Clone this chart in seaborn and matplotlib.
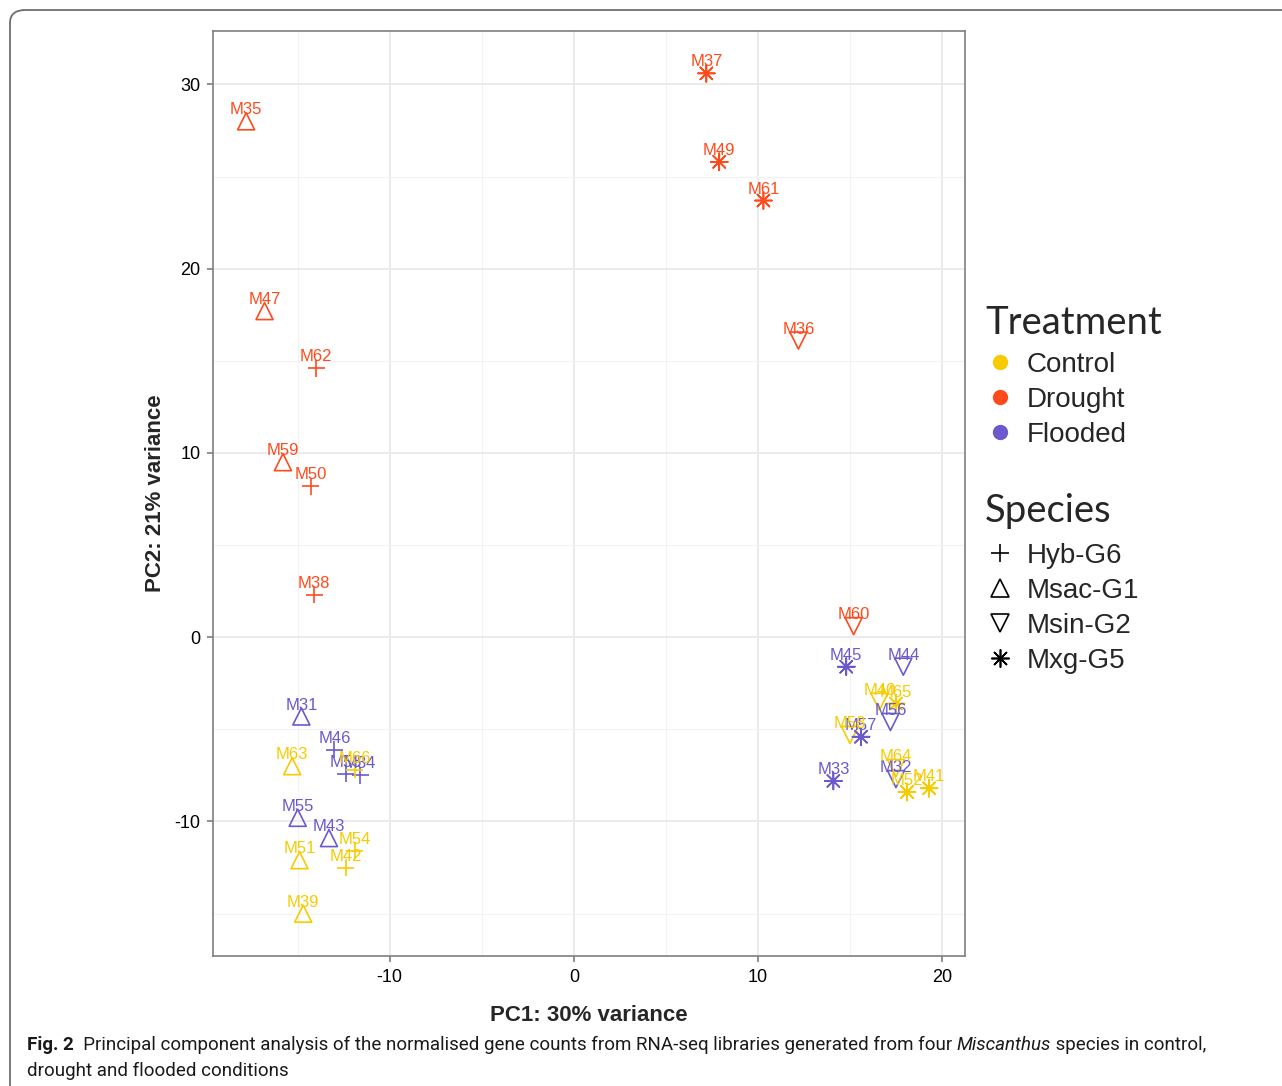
import seaborn as sns
import pandas as pd
import numpy as np
import matplotlib.pyplot as plt
from matplotlib import font_manager
from matplotlib.lines import Line2D
from matplotlib.patches import FancyBboxPatch

samples = ["M35", "M37", "M49", "M61", "M47", "M36", "M62", "M59", "M50", "M38", "M60",
           "M31", "M46", "M53", "M34", "M55", "M43", "M45", "M44", "M56", "M57", "M33", "M32",
           "M63", "M66", "M54", "M42", "M51", "M39", "M40", "M65", "M58", "M64", "M52", "M41"]
pc1 = [-17.8, 7.2, 7.9, 10.3, -16.8, 12.2, -14.0, -15.8, -14.3, -14.1, 15.2,
       -14.8, -13.0, -12.4, -11.6, -15.0, -13.3, 14.8, 17.9, 17.2, 15.6, 14.1, 17.5,
       -15.3, -11.9, -11.9, -12.4, -14.9, -14.7, 16.6, 17.5, 15.0, 17.5, 18.1, 19.3]
pc2 = [28.0, 30.6, 25.8, 23.7, 17.7, 16.1, 14.6, 9.5, 8.2, 2.3, 0.6,
       -4.3, -6.1, -7.4, -7.5, -9.8, -10.9, -1.6, -1.6, -4.6, -5.4, -7.8, -7.7,
       -7.0, -7.2, -11.6, -12.5, -12.1, -15.0, -3.5, -3.6, -5.3, -7.1, -8.4, -8.2]
treatment = ["Drought"] * 11 + ["Flooded"] * 12 + ["Control"] * 12
species = ["Msac-G1", "Mxg-G5", "Mxg-G5", "Mxg-G5", "Msac-G1", "Msin-G2", "Hyb-G6", "Msac-G1", "Hyb-G6", "Hyb-G6", "Msin-G2",
           "Msac-G1", "Hyb-G6", "Hyb-G6", "Hyb-G6", "Msac-G1", "Msac-G1", "Mxg-G5", "Msin-G2", "Msin-G2", "Mxg-G5", "Mxg-G5", "Msin-G2",
           "Msac-G1", "Hyb-G6", "Hyb-G6", "Hyb-G6", "Msac-G1", "Msac-G1", "Msin-G2", "Mxg-G5", "Msin-G2", "Msin-G2", "Mxg-G5", "Mxg-G5"]

treat_levels = ["Control", "Drought", "Flooded"]
species_levels = ["Hyb-G6", "Msac-G1", "Msin-G2", "Mxg-G5"]
palette = {"Control": "#F7CB00", "Drought": "#FF4A1C", "Flooded": "#6A5ACD"}
markers = {"Hyb-G6": "+", "Msac-G1": "^", "Msin-G2": "v", "Mxg-G5": (8, 2, 0)}

df = pd.DataFrame({"sample": samples, "PC1": pc1, "PC2": pc2,
                   "treatment": treatment, "species": species})

names = {f.name for f in font_manager.fontManager.ttflist}
narrow = "Liberation Sans Narrow" in names
base = "Liberation Sans"

sns.set_theme(style="white")
plt.rcParams["font.family"] = [base, "DejaVu Sans"]

fig = plt.figure(figsize=(12.82, 10.86), dpi=100)
ax = fig.add_axes([213 / 1282, 1 - 956 / 1086, (965 - 213) / 1282, (956 - 31) / 1086])

for sp in species_levels:
    sub = df[df["species"] == sp]
    sns.scatterplot(data=sub, x="PC1", y="PC2", hue="treatment", palette=palette,
                    marker=markers[sp], s=150, legend=False, ax=ax, zorder=3)

# open markers like ggplot shapes
for coll in ax.collections:
    fc = coll.get_facecolors()
    coll.set_edgecolors(fc)
    coll.set_facecolors("none")
    coll.set_linewidths(1.2)

for _, r in df.iterrows():
    ax.annotate(r["sample"], (r["PC1"], r["PC2"]), xytext=(0, 5),
                textcoords="offset points", ha="center", va="baseline",
                fontsize=12, color=palette[r["treatment"]], zorder=4)

ax.set_xlim(-19.6, 21.25)
ax.set_ylim(-17.3, 32.9)
ax.set_xticks([-10, 0, 10, 20])
ax.set_xticklabels(["-10", "0", "10", "20"])
ax.set_yticks([-10, 0, 10, 20, 30])
ax.set_yticklabels(["-10", "0", "10", "20", "30"])
ax.set_xticks([-15, -5, 5, 15], minor=True)
ax.set_yticks([-15, -5, 5, 15, 25], minor=True)
ax.grid(True, which="major", color="#EBEBEB", linewidth=1.4)
ax.grid(True, which="minor", color="#F2F2F2", linewidth=0.8)
ax.set_axisbelow(True)
for s in ax.spines.values():
    s.set_color("#7F7F7F")
    s.set_linewidth(1.2)
ax.tick_params(which="major", length=4, width=1.2, color="#7F7F7F",
               labelsize=13, labelcolor="black", pad=5, bottom=True, left=True)
ax.tick_params(which="minor", length=0)
ax.set_xlabel("PC1: 30% variance", fontsize=16, fontweight="bold", labelpad=14)
ax.set_ylabel("PC2: 21% variance", fontsize=16, fontweight="bold", labelpad=6)

# legends
entry_font = {"family": ["Liberation Sans Narrow" if narrow else base, "DejaVu Sans"],
              "size": 23 if narrow else 20}
title_font = {"family": ["Lato", "DejaVu Sans"], "size": 27.5}
t_handles = [Line2D([], [], marker="o", linestyle="", color=palette[t], markersize=10)
             for t in treat_levels]
leg1 = fig.legend(t_handles, treat_levels, loc="upper left",
                  bbox_to_anchor=(974 / 1282, 1 - 294 / 1086), frameon=False,
                  title="Treatment", prop=entry_font, title_fontproperties=title_font,
                  handletextpad=0.4, labelspacing=0.32, handlelength=1.1, borderaxespad=0)
leg1._legend_box.align = "left"
leg1._legend_box.sep = 8
s_handles = [Line2D([], [], marker=markers[s], linestyle="", color="black",
                    markerfacecolor="none", markersize=13, markeredgewidth=1.2)
             for s in species_levels]
leg2 = fig.legend(s_handles, species_levels, loc="upper left",
                  bbox_to_anchor=(974 / 1282, 1 - 482 / 1086), frameon=False,
                  title="Species", prop=entry_font, title_fontproperties=title_font,
                  handletextpad=0.4, labelspacing=0.32, handlelength=1.1, borderaxespad=0)
leg2._legend_box.align = "left"
leg2._legend_box.sep = 10

# figure frame
frame = FancyBboxPatch((10 / 1282, 1 - 1200 / 1086), 1400 / 1282, 1190 / 1086,
                       boxstyle="round,pad=0,rounding_size=0.012",
                       transform=fig.transFigure, fill=False,
                       edgecolor="#6E6E6E", linewidth=1.3, clip_on=False)
fig.patches.append(frame)

# caption
cap_family = ["Liberation Sans Narrow" if narrow else "Roboto", "DejaVu Sans"]
cap_size = 15.5 if narrow else 13.5
renderer = fig.canvas.get_renderer()
pieces = [("Fig. 2", "bold", "normal"),
          ("  Principal component analysis of the normalised gene counts from RNA-seq libraries generated from four ", "normal", "normal"),
          ("Miscanthus", "normal", "italic"),
          (" species in control,", "normal", "normal")]
x = 27
for txt, w, st in pieces:
    t = fig.text(x / 1282, 1 - 1050 / 1086, txt, family=cap_family, size=cap_size,
                 weight=w, style=st, color="#1A1A1A", va="baseline", ha="left")
    x += t.get_window_extent(renderer).width
fig.text(27 / 1282, 1 - 1076 / 1086, "drought and flooded conditions", family=cap_family,
         size=cap_size, color="#1A1A1A", va="baseline", ha="left")

fig.savefig("out.png", dpi=100)
